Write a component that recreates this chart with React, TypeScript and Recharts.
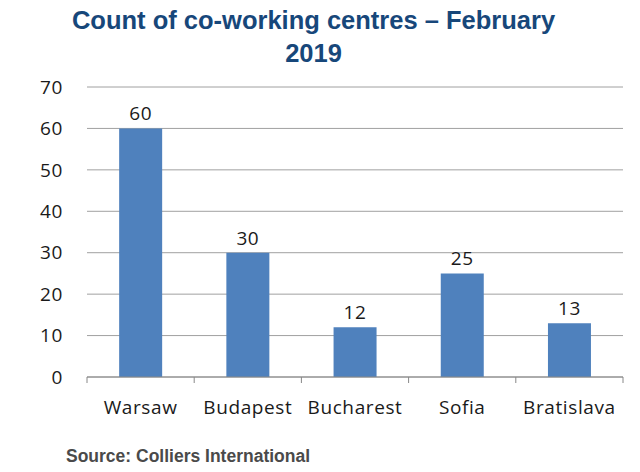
import { BarChart, Bar, XAxis, YAxis, CartesianGrid, LabelList } from 'recharts'

const cities = ['Warsaw', 'Budapest', 'Bucharest', 'Sofia', 'Bratislava']
const centres = [60, 30, 12, 25, 13]
const yTicks = [0, 10, 20, 30, 40, 50, 60, 70]

const data = cities.map((city, i) => ({ city, count: centres[i] }))

const labelFont = "'Open Sans', 'Noto Sans', sans-serif"

// category tick: label + boundary tick marks like in Excel
const CityTick = (props: any) => {
	const { x, y, payload, index, visibleTicksCount } = props
	const half = payload && payload.offset ? payload.offset : 54
	const axisY = y - 24
	return (
		<g>
			<line x1={x - half} y1={axisY} x2={x - half} y2={axisY + 6} stroke='#888' />
			{index === visibleTicksCount - 1 && <line x1={x + half} y1={axisY} x2={x + half} y2={axisY + 6} stroke='#888' />}
			<text x={x} y={y} dy='0.71em' textAnchor='middle' fill='#1a1a1a' fontSize={19} letterSpacing={0.6} fontFamily={labelFont}>
				{payload.value}
			</text>
		</g>
	)
}

export default function App() {
	return (
		<div style={{ position: 'relative', width: 640, height: 472, margin: -8, background: '#fff' }}>
			<div
				style={{
					position: 'absolute',
					top: 4,
					left: 0,
					width: 627,
					textAlign: 'center',
					fontFamily: "'Liberation Sans', Arial, sans-serif",
					fontWeight: 'bold',
					fontSize: 25.5,
					lineHeight: '33px',
					color: '#17477a',
				}}
			>
				Count of co-working centres – February
				<br />
				2019
			</div>
			<BarChart width={640} height={472} data={data} margin={{ top: 87, right: 17, bottom: 55, left: 0 }} barCategoryGap='30%'>
				<CartesianGrid vertical={false} stroke='#a0a0a0' />
				<XAxis dataKey='city' axisLine={{ stroke: '#888' }} tickLine={false} tickSize={6} tickMargin={18} tick={<CityTick />} height={40} interval={0} />
				<YAxis
					domain={[0, 70]}
					ticks={yTicks}
					width={87}
					axisLine={false}
					tickLine={false}
					tickMargin={18}
					tick={{ fill: '#1a1a1a', fontSize: 19, letterSpacing: 0.6, fontFamily: labelFont }}
				/>
				<Bar dataKey='count' fill='#4f81bd' isAnimationActive={false}>
					<LabelList dataKey='count' position='top' offset={8} fill='#1a1a1a' fontSize={19} letterSpacing={0.6} fontFamily={labelFont} />
				</Bar>
			</BarChart>
			<div
				style={{
					position: 'absolute',
					top: 446,
					left: 66,
					fontFamily: "'Liberation Sans', Arial, sans-serif",
					fontWeight: 'bold',
					fontSize: 17.5,
					lineHeight: '20px',
					color: '#4a4a4a',
				}}
			>
				Source: Colliers International
			</div>
		</div>
	)
}
